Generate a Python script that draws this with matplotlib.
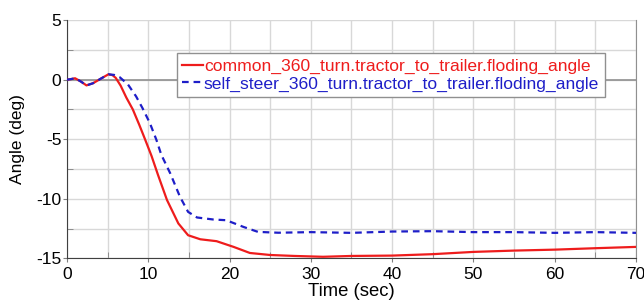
import matplotlib
matplotlib.use("Agg")
import matplotlib.pyplot as plt
from matplotlib.ticker import MultipleLocator

plt.rcParams['font.family'] = ['Liberation Sans', 'DejaVu Sans']
plt.rcParams['axes.unicode_minus'] = False

t_common = [0, 0.5, 1, 1.7, 2.4, 3.2, 4.2, 5.1, 5.6, 6.0, 6.6, 7.3, 8.1, 8.9, 9.6, 10.4, 11.2,
            12.3, 13.7, 14.9, 16.4, 18.4, 20.5, 22.5, 25, 28, 31.5, 35, 40, 45, 50,
            55, 60, 65, 70]
v_common = [0, 0.05, 0.12, -0.15, -0.48, -0.3, 0.1, 0.45, 0.38, 0.15, -0.5, -1.5, -2.5,
            -3.8, -5.0, -6.4, -8.0, -10.1, -12.07, -13.06, -13.4, -13.56, -14.04, -14.55,
            -14.72, -14.8, -14.87, -14.8, -14.77, -14.65, -14.46, -14.35, -14.27, -14.15,
            -14.04]

t_self = [0, 0.5, 1, 1.7, 2.4, 3.2, 4.2, 5.1, 5.8, 6.5, 7.5, 8.5, 9.3, 10.2, 11.0, 11.6,
          12.7, 13.9, 14.9, 16.0, 18.0, 19.6, 21.7, 23.5, 26, 30, 35, 40, 45, 50, 55,
          60, 65, 70]
v_self = [0, 0.05, 0.12, -0.15, -0.48, -0.3, 0.1, 0.45, 0.4, 0.2, -0.4, -1.4, -2.4,
          -3.65, -5.05, -6.3, -7.86, -9.83, -11.1, -11.57, -11.74, -11.8, -12.36, -12.78,
          -12.85, -12.8, -12.86, -12.75, -12.72, -12.8, -12.8, -12.86, -12.8, -12.86]

labels = ["common_360_turn.tractor_to_trailer.floding_angle",
          "self_steer_360_turn.tractor_to_trailer.floding_angle"]

fig = plt.figure(figsize=(6.44, 3.05), dpi=100)
ax = fig.add_axes([0.104, 0.153, 0.8836, 0.781])

ax.set_xlim(0, 70)
ax.set_ylim(-15, 5)
ax.xaxis.set_major_locator(MultipleLocator(10))
ax.xaxis.set_minor_locator(MultipleLocator(5))
ax.yaxis.set_major_locator(MultipleLocator(5))
ax.yaxis.set_minor_locator(MultipleLocator(2.5))
ax.grid(True, which='both', color='#d8d8d8', linewidth=1.0)
ax.set_axisbelow(True)
ax.axhline(0, color='#909090', linewidth=1.2, zorder=1)

ax.plot(t_common, v_common, color='#ee1c1c', linewidth=1.6, label=labels[0], zorder=3)
ax.plot(t_self, v_self, color='#1e1ec8', linewidth=1.6, linestyle=(0, (3, 2.2)),
        label=labels[1], zorder=3)

ax.tick_params(which='both', color='#808080', labelsize=12.5)
ax.tick_params(which='major', direction='out', length=3)
ax.tick_params(which='minor', direction='in', length=4)
ax.tick_params(axis='x', which='major', pad=3)
ax.tick_params(axis='y', which='major', pad=1)
for s in ['left', 'bottom']:
    ax.spines[s].set_color('#404040')
ax.spines['right'].set_color('#909090')
ax.spines['top'].set_visible(False)

ax.set_xlabel("Time (sec)", fontsize=13.3, labelpad=1)
ax.set_ylabel("Angle (deg)", fontsize=12.5, labelpad=8)

leg = ax.legend(loc='upper left', bbox_to_anchor=(0.193, 0.86), fontsize=12.6,
                frameon=True, fancybox=False, edgecolor='#909090', framealpha=1,
                handlelength=1.2, handletextpad=0.05, borderpad=0.3, labelspacing=0.12,
                borderaxespad=0)
leg.get_frame().set_linewidth(1.0)
for txt, c in zip(leg.get_texts(), ['#ee1c1c', '#1e1ec8']):
    txt.set_color(c)

fig.savefig("out.png", dpi=100)
